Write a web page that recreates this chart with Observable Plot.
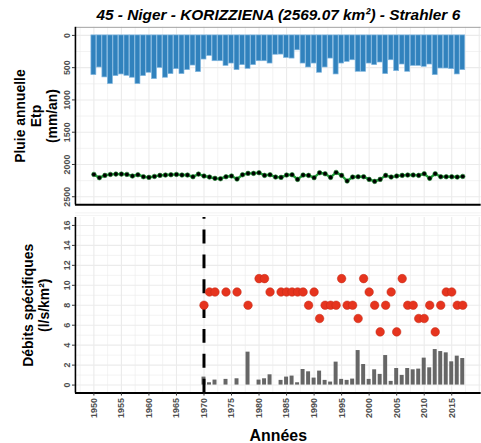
<!DOCTYPE html>
<html><head><meta charset="utf-8">
<script src="https://cdn.jsdelivr.net/npm/d3@7"></script>
<script src="https://cdn.jsdelivr.net/npm/@observablehq/plot@0.6"></script>
<style>
body{margin:0;background:#fff;}
#chart{position:relative;width:481px;height:443px;overflow:hidden;background:#fff;}
#chart svg{position:absolute;left:0;overflow:visible;}
</style></head><body><div id="chart"></div>
<script>
const FONT = "'Liberation Sans', Arial, Helvetica, sans-serif";
const title = "45 - Niger - KORIZZIENA (2569.07 km²) - Strahler 6";
const yLabelTop = "Pluie annuelle\nEtp\n(mm/an)";
const yLabelBottom = "Débits spécifiques\n(l/s/km²)";
const xLabel = "Années";

const years = [1950,1951,1952,1953,1954,1955,1956,1957,1958,1959,1960,1961,1962,1963,1964,1965,1966,1967,1968,1969,
  1970,1971,1972,1973,1974,1975,1976,1977,1978,1979,1980,1981,1982,1983,1984,1985,1986,1987,1988,1989,
  1990,1991,1992,1993,1994,1995,1996,1997,1998,1999,2000,2001,2002,2003,2004,2005,2006,2007,2008,2009,
  2010,2011,2012,2013,2014,2015,2016,2017];
const pluie = [615,497,651,754,631,605,626,656,754,631,579,677,503,656,600,523,600,538,467,569,
  374,318,400,400,472,436,538,461,518,461,400,400,436,300,297,349,359,231,436,497,
  436,579,497,359,605,436,410,385,564,564,436,461,420,600,385,554,451,564,472,472,
  487,451,615,513,513,523,605,538];
const etp = [2154,2205,2169,2154,2149,2149,2154,2179,2159,2190,2200,2185,2169,2164,2159,2154,2164,2164,2190,2149,
  2179,2195,2215,2221,2190,2179,2226,2159,2138,2138,2128,2169,2159,2195,2200,2164,2159,2231,2164,2169,
  2205,2128,2144,2200,2123,2169,2256,2195,2190,2190,2231,2262,2231,2169,2195,2179,2169,2164,2164,2169,
  2144,2215,2144,2190,2190,2190,2195,2185];

const qYears = [1970,1971,1972,1974,1976,1978,1980,1981,1982,1984,1985,1986,1987,1988,1989,
  1990,1991,1992,1993,1994,1995,1996,1997,1998,1999,2000,2001,2002,2003,2004,2005,2006,2007,2008,2009,
  2010,2011,2012,2013,2014,2015,2016,2017];
const qValues = [0.8,0.23,0.5,0.57,0.63,3.3,0.5,0.63,1.03,0.47,0.8,0.9,0.23,1.56,1.33,
  0.7,1.4,0.47,0.3,2.3,0.57,0.47,0.6,3.46,2.06,0.57,1.53,1.07,2.96,0.37,1.66,0.97,1.66,1.53,1.6,
  2.7,1.73,3.56,3.36,3.23,2.33,2.9,2.66];
const qPoints = [8,9.33,9.33,9.33,9.33,8,10.67,10.67,9.33,9.33,9.33,9.33,9.33,9.33,8,
  9.33,6.67,8,8,8,10.67,8,8,6.67,10.67,9.33,8,5.33,8,9.33,5.33,10.67,8,8,6.67,
  6.67,8,5.33,8,9.33,9.33,8,8];

const xTicks = [1950,1955,1960,1965,1970,1975,1980,1985,1990,1995,2000,2005,2010,2015];
const yTicksTop = [0,500,1000,1500,2000,2500];
const yTicksBottom = [0,2,4,6,8,10,12,14,16];
const breakYear = [1970];

const topData = years.map((y, i) => ({year: y, pluie: pluie[i], etp: etp[i]}));
const qData = qYears.map((y, i) => ({year: y, q: qValues[i], p: qPoints[i]}));

const xDomain = [1946.65, 2020.35];
const xMinor = [1947.5, ...xTicks.map(d => d + 2.5)];
const xMajorGrid = [...xTicks, 2020];
const yMinorTop = yTicksTop.map(d => d + 250);
const yMinorBottom = yTicksBottom.map(d => d + 1);

const GRID = "#ebebeb";
const TICKTXT = "#4d4d4d";
const W = 484;
const fmt = d => String(d);

const p1 = Plot.plot({
  width: W, height: 210,
  marginLeft: 75.4, marginRight: 0.3, marginTop: 27, marginBottom: 4.4,
  x: {domain: xDomain, axis: null},
  y: {domain: [-125, 2625], reverse: true},
  style: {fontFamily: FONT, background: "transparent"},
  marks: [
    Plot.gridX(xMinor, {stroke: GRID, strokeOpacity: 1, strokeWidth: 0.6}),
    Plot.gridX(xMajorGrid, {stroke: GRID, strokeOpacity: 1, strokeWidth: 1.1}),
    Plot.gridY(yMinorTop, {stroke: GRID, strokeOpacity: 1, strokeWidth: 0.6}),
    Plot.gridY(yTicksTop, {stroke: GRID, strokeOpacity: 1, strokeWidth: 1.1}),
    Plot.rect(topData, {x1: d => d.year - 0.45, x2: d => d.year + 0.45, y1: 0, y2: "pluie",
      fill: "#3182bd", stroke: "#80b6df", strokeWidth: 0.7}),
    Plot.line(topData, {x: "year", y: "etp", stroke: "#22a33a", strokeWidth: 2.4}),
    Plot.dot(topData, {x: "year", y: "etp", r: 2.3, fill: "black", stroke: "#1f8f33", strokeWidth: 0.6}),
    Plot.ruleY([-125], {stroke: "#a0a0a0", strokeWidth: 1}),
    Plot.ruleX([xDomain[0]], {stroke: "black", strokeWidth: 1.6}),
    Plot.ruleY([2625], {stroke: "black", strokeWidth: 2}),
    Plot.axisY(yTicksTop, {tickRotate: -90, tickSize: 3, tickPadding: 2, fontSize: 9, fontWeight: "bold",
      fill: TICKTXT, stroke: "#333", label: null, textAnchor: "middle", lineAnchor: "bottom", tickFormat: fmt}),
    Plot.text([title], {frameAnchor: "top", dy: -12, text: d => d, fontSize: 15.5, fontWeight: "bold",
      fontStyle: "italic", fill: "black", lineAnchor: "middle"}),
    Plot.text([yLabelTop], {frameAnchor: "left", dx: -40, text: d => d, rotate: -90, fontSize: 14,
      fontWeight: "bold", fill: "black", textAnchor: "middle", lineAnchor: "middle", lineHeight: 1.15})
  ]
});
p1.style.top = "0px";

const p2 = Plot.plot({
  width: W, height: 233,
  marginLeft: 75.4, marginRight: 0.3, marginTop: 7, marginBottom: 49.3,
  x: {domain: xDomain},
  y: {domain: [-0.8, 16.8]},
  style: {fontFamily: FONT, background: "transparent"},
  marks: [
    Plot.gridX(xMinor, {stroke: GRID, strokeOpacity: 1, strokeWidth: 0.6}),
    Plot.gridX(xMajorGrid, {stroke: GRID, strokeOpacity: 1, strokeWidth: 1.1}),
    Plot.gridY(yMinorBottom, {stroke: GRID, strokeOpacity: 1, strokeWidth: 0.6}),
    Plot.gridY(yTicksBottom, {stroke: GRID, strokeOpacity: 1, strokeWidth: 1.1}),
    Plot.rect(qData, {x1: d => d.year - 0.36, x2: d => d.year + 0.36, y1: 0, y2: "q", fill: "#666666"}),
    Plot.ruleX(breakYear, {y1: -0.8, y2: 16.8, stroke: "black", strokeWidth: 3, strokeDasharray: "14,11"}),
    Plot.dot(qData, {x: "year", y: "p", r: 4.3, fill: "#e6341e", stroke: "#c22a17", strokeWidth: 0.5}),
    Plot.ruleX([xDomain[0]], {stroke: "black", strokeWidth: 1.6}),
    Plot.ruleY([-0.8], {stroke: "black", strokeWidth: 2}),
    Plot.axisY(yTicksBottom, {tickRotate: -90, tickSize: 3, tickPadding: 2, fontSize: 9, fontWeight: "bold",
      fill: TICKTXT, stroke: "#333", label: null, textAnchor: "middle", lineAnchor: "bottom", tickFormat: fmt}),
    Plot.axisX(xTicks, {tickRotate: -90, tickSize: 3, tickPadding: 2, fontSize: 9, fontWeight: "bold",
      fill: TICKTXT, stroke: "#333", label: null, textAnchor: "end", lineAnchor: "middle", tickFormat: fmt}),
    Plot.text([xLabel], {frameAnchor: "bottom", dy: 43, text: d => d, fontSize: 16, fontWeight: "bold",
      fill: "black", lineAnchor: "middle"}),
    Plot.text([yLabelBottom], {frameAnchor: "left", dx: -40, text: d => d, rotate: -90, fontSize: 14,
      fontWeight: "bold", fill: "black", textAnchor: "middle", lineAnchor: "middle", lineHeight: 1.15})
  ]
});
p2.style.top = "210px";

const root = document.getElementById("chart");
root.appendChild(p1);
root.appendChild(p2);
</script>
</body></html>
